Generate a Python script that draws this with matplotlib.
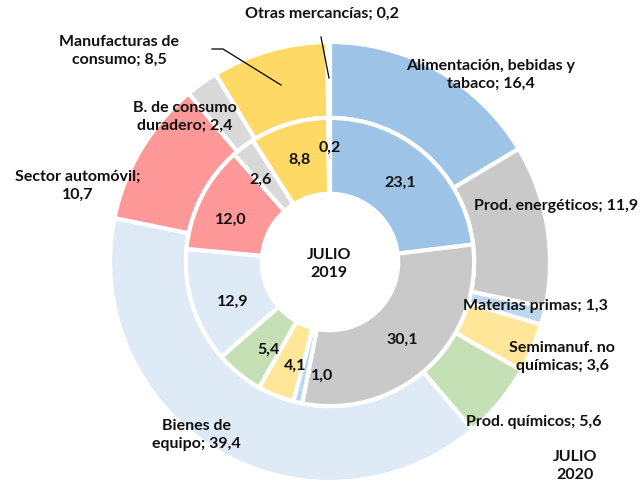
import numpy as np
import matplotlib
matplotlib.use("Agg")
import matplotlib.pyplot as plt

# ── Data ──────────────────────────────────────────────────────────────────────

categories = [
    "Alimentación, bebidas y\ntabaco",
    "Prod. energéticos",
    "Materias primas",
    "Semimanuf. no\nquímicas",
    "Prod. químicos",
    "Bienes de\nequipo",
    "Sector automóvil;\n",
    "B. de consumo\nduradero",
    "Manufacturas de\nconsumo",
    "Otras mercancías",
]
values_2020 = [16.4, 11.9, 1.3, 3.6, 5.6, 39.4, 10.7, 2.4, 8.5, 0.2]
values_2019 = [23.1, 30.1, 1.0, 4.1, 5.4, 12.9, 12.0, 2.6, 8.8, 0.2]

colors = ["#9DC3E6", "#C9C9C9", "#BDD7EE", "#FFE699", "#C5E0B4",
          "#DEEBF7", "#FF9999", "#D9D9D9", "#FFD966", "#FFFFFF"]

# ── Layout ────────────────────────────────────────────────────────────────────

W, H = 642, 483
CX, CY, R = 330, 262, 220          # pie centre and outer radius in pixels
RING = 0.345                       # ring width (fraction of outer radius)
FONT = dict(family="Lato", weight="bold", fontsize=11.5, color="#111111")


def px(x, y):
    """pixel position in the picture -> data coords of the pie axes"""
    return (x - CX) / R, (CY - y) / R


# outer label positions (pixel centres)
outer_pos = [(491, 75), (556, 206), (535, 306), (562, 357), (534, 422),
             (196, 435), (78, 186), (185, 117), (119, 51), (322, 14)]

# small nudges for inner labels (pixels)
inner_nudge = {2: (16, 10), 3: (5, 5), 4: (6, 5), 5: (4, 7), 6: (-4, 6),
               7: (-6, 3), 9: (0, -8)}


def fmt(v):
    return f"{v:.1f}".replace(".", ",")


fig = plt.figure(figsize=(W / 100, H / 100), dpi=100)
ax = fig.add_axes([(CX - R) / W, (H - CY - R) / H, 2 * R / W, 2 * R / H])

wp = dict(edgecolor="white", linewidth=3)
ax.pie(values_2020, colors=colors, radius=1.0, startangle=90,
       counterclock=False, wedgeprops=dict(width=RING, **wp))
ax.pie(values_2019, colors=colors, radius=1.0 - RING, startangle=90,
       counterclock=False, wedgeprops=dict(width=RING, **wp))
ax.set_xlim(-1, 1)
ax.set_ylim(-1, 1)
ax.set_aspect("equal")
ax.axis("off")

# inner ring value labels at the middle of each wedge
vals = np.array(values_2019)
cum = np.cumsum(vals) - vals / 2
ang = np.deg2rad(90 - cum / vals.sum() * 360)
r_mid = 1.0 - RING - RING / 2
for i, (a, v) in enumerate(zip(ang, values_2019)):
    dx, dy = inner_nudge.get(i, (0, 0))
    x = r_mid * np.cos(a) + dx / R
    y = r_mid * np.sin(a) - dy / R
    ax.text(x, y, fmt(v), ha="center", va="center", **FONT)

# outer ring labels
for name, v, (x, y) in zip(categories, values_2020, outer_pos):
    if name.endswith(";\n"):
        txt = name + fmt(v)
    else:
        txt = f"{name}; {fmt(v)}"
    tx, ty = px(x, y)
    ax.text(tx, ty, txt, ha="center", va="center", linespacing=1.35, **FONT)

# leader lines
ax.plot(*zip(px(321, 37), px(329, 78)), color="black", lw=0.9, clip_on=False)
ax.plot(*zip(px(212, 49), px(223, 49), px(281, 85)), color="black", lw=0.9,
        clip_on=False)

ax.text(*px(329, 264), "JULIO\n2019", ha="center", va="center",
        linespacing=1.35, **FONT)
ax.text(*px(575, 466), "JULIO\n2020", ha="center", va="center",
        linespacing=1.35, **FONT)

fig.savefig("out.png", dpi=100)
